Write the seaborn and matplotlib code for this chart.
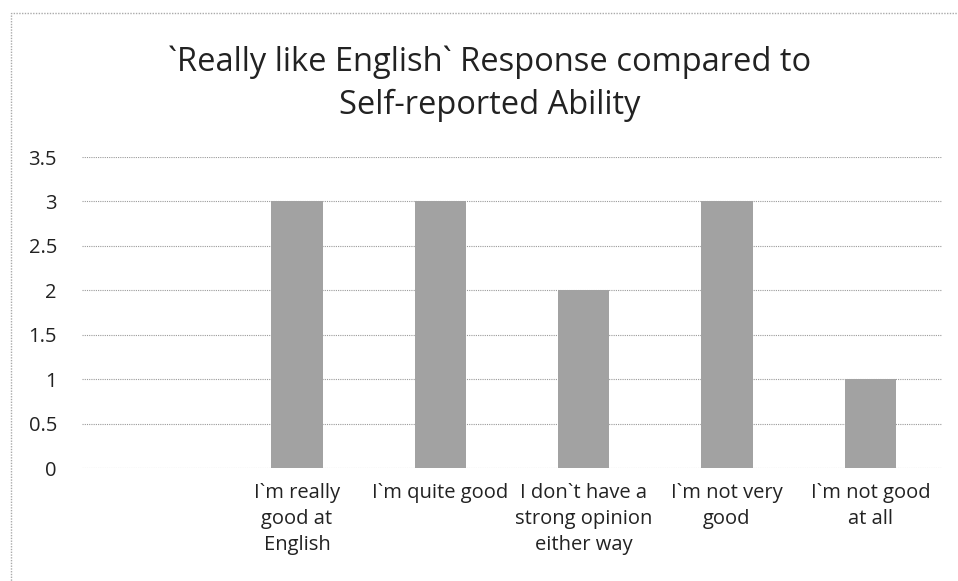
import matplotlib
matplotlib.use("Agg")
import matplotlib.pyplot as plt
import seaborn as sns
import pandas as pd
from matplotlib.patches import Rectangle

categories = ["", "I`m really\ngood at\nEnglish", "I`m quite good",
              "I don`t have a\nstrong opinion\neither way", "I`m not very\ngood",
              "I`m not good\nat all"]
values = [0, 3, 3, 2, 3, 1]
yticks = [0, 0.5, 1, 1.5, 2, 2.5, 3, 3.5]
ytick_labels = ["0", "0.5", "1", "1.5", "2", "2.5", "3", "3.5"]
title = "`Really like English` Response compared to\nSelf-reported Ability"

sns.set_theme(style="white")
plt.rcParams['font.family'] = ['Open Sans', 'DejaVu Sans']

df = pd.DataFrame({"cat": categories, "val": values})

fig = plt.figure(figsize=(9.58, 5.81), dpi=100)
ax = fig.add_axes([82/958, 113/581, 860/958, 311/581])
sns.barplot(data=df, x="cat", y="val", ax=ax, color="#a2a2a2", width=0.36,
            saturation=1, edgecolor="none")
ax.set_ylim(0, 3.5)
ax.set_yticks(yticks)
ax.set_yticklabels(ytick_labels, fontsize=14.5, color="#222222")
ax.tick_params(axis='y', length=0, pad=18)
ax.tick_params(axis='x', length=0, pad=11)
for lab in ax.get_xticklabels():
    lab.set_fontsize(14.5)
    lab.set_color("#222222")
    lab.set_linespacing(1.4)
ax.set_xlabel("")
ax.set_ylabel("")
for s in ax.spines.values():
    s.set_visible(False)
ax.set_axisbelow(True)
ax.yaxis.grid(True, linestyle=(0, (1, 1)), color="#9a9a9a", linewidth=0.8)
ax.xaxis.grid(False)
ax.set_xlim(-0.5, 5.5)

fig.text(490/958, 1 - 84/581, title, ha="center", va="center", fontsize=23.5,
         color="#222222", linespacing=1.4)

fig.patches.append(Rectangle((11/958, -0.2), 1.2, 1.2 - 13/581, transform=fig.transFigure,
                             fill=False, edgecolor="#aaaaaa", linestyle=(0, (1, 1)),
                             linewidth=1.0))

fig.savefig("out.png", dpi=100)
